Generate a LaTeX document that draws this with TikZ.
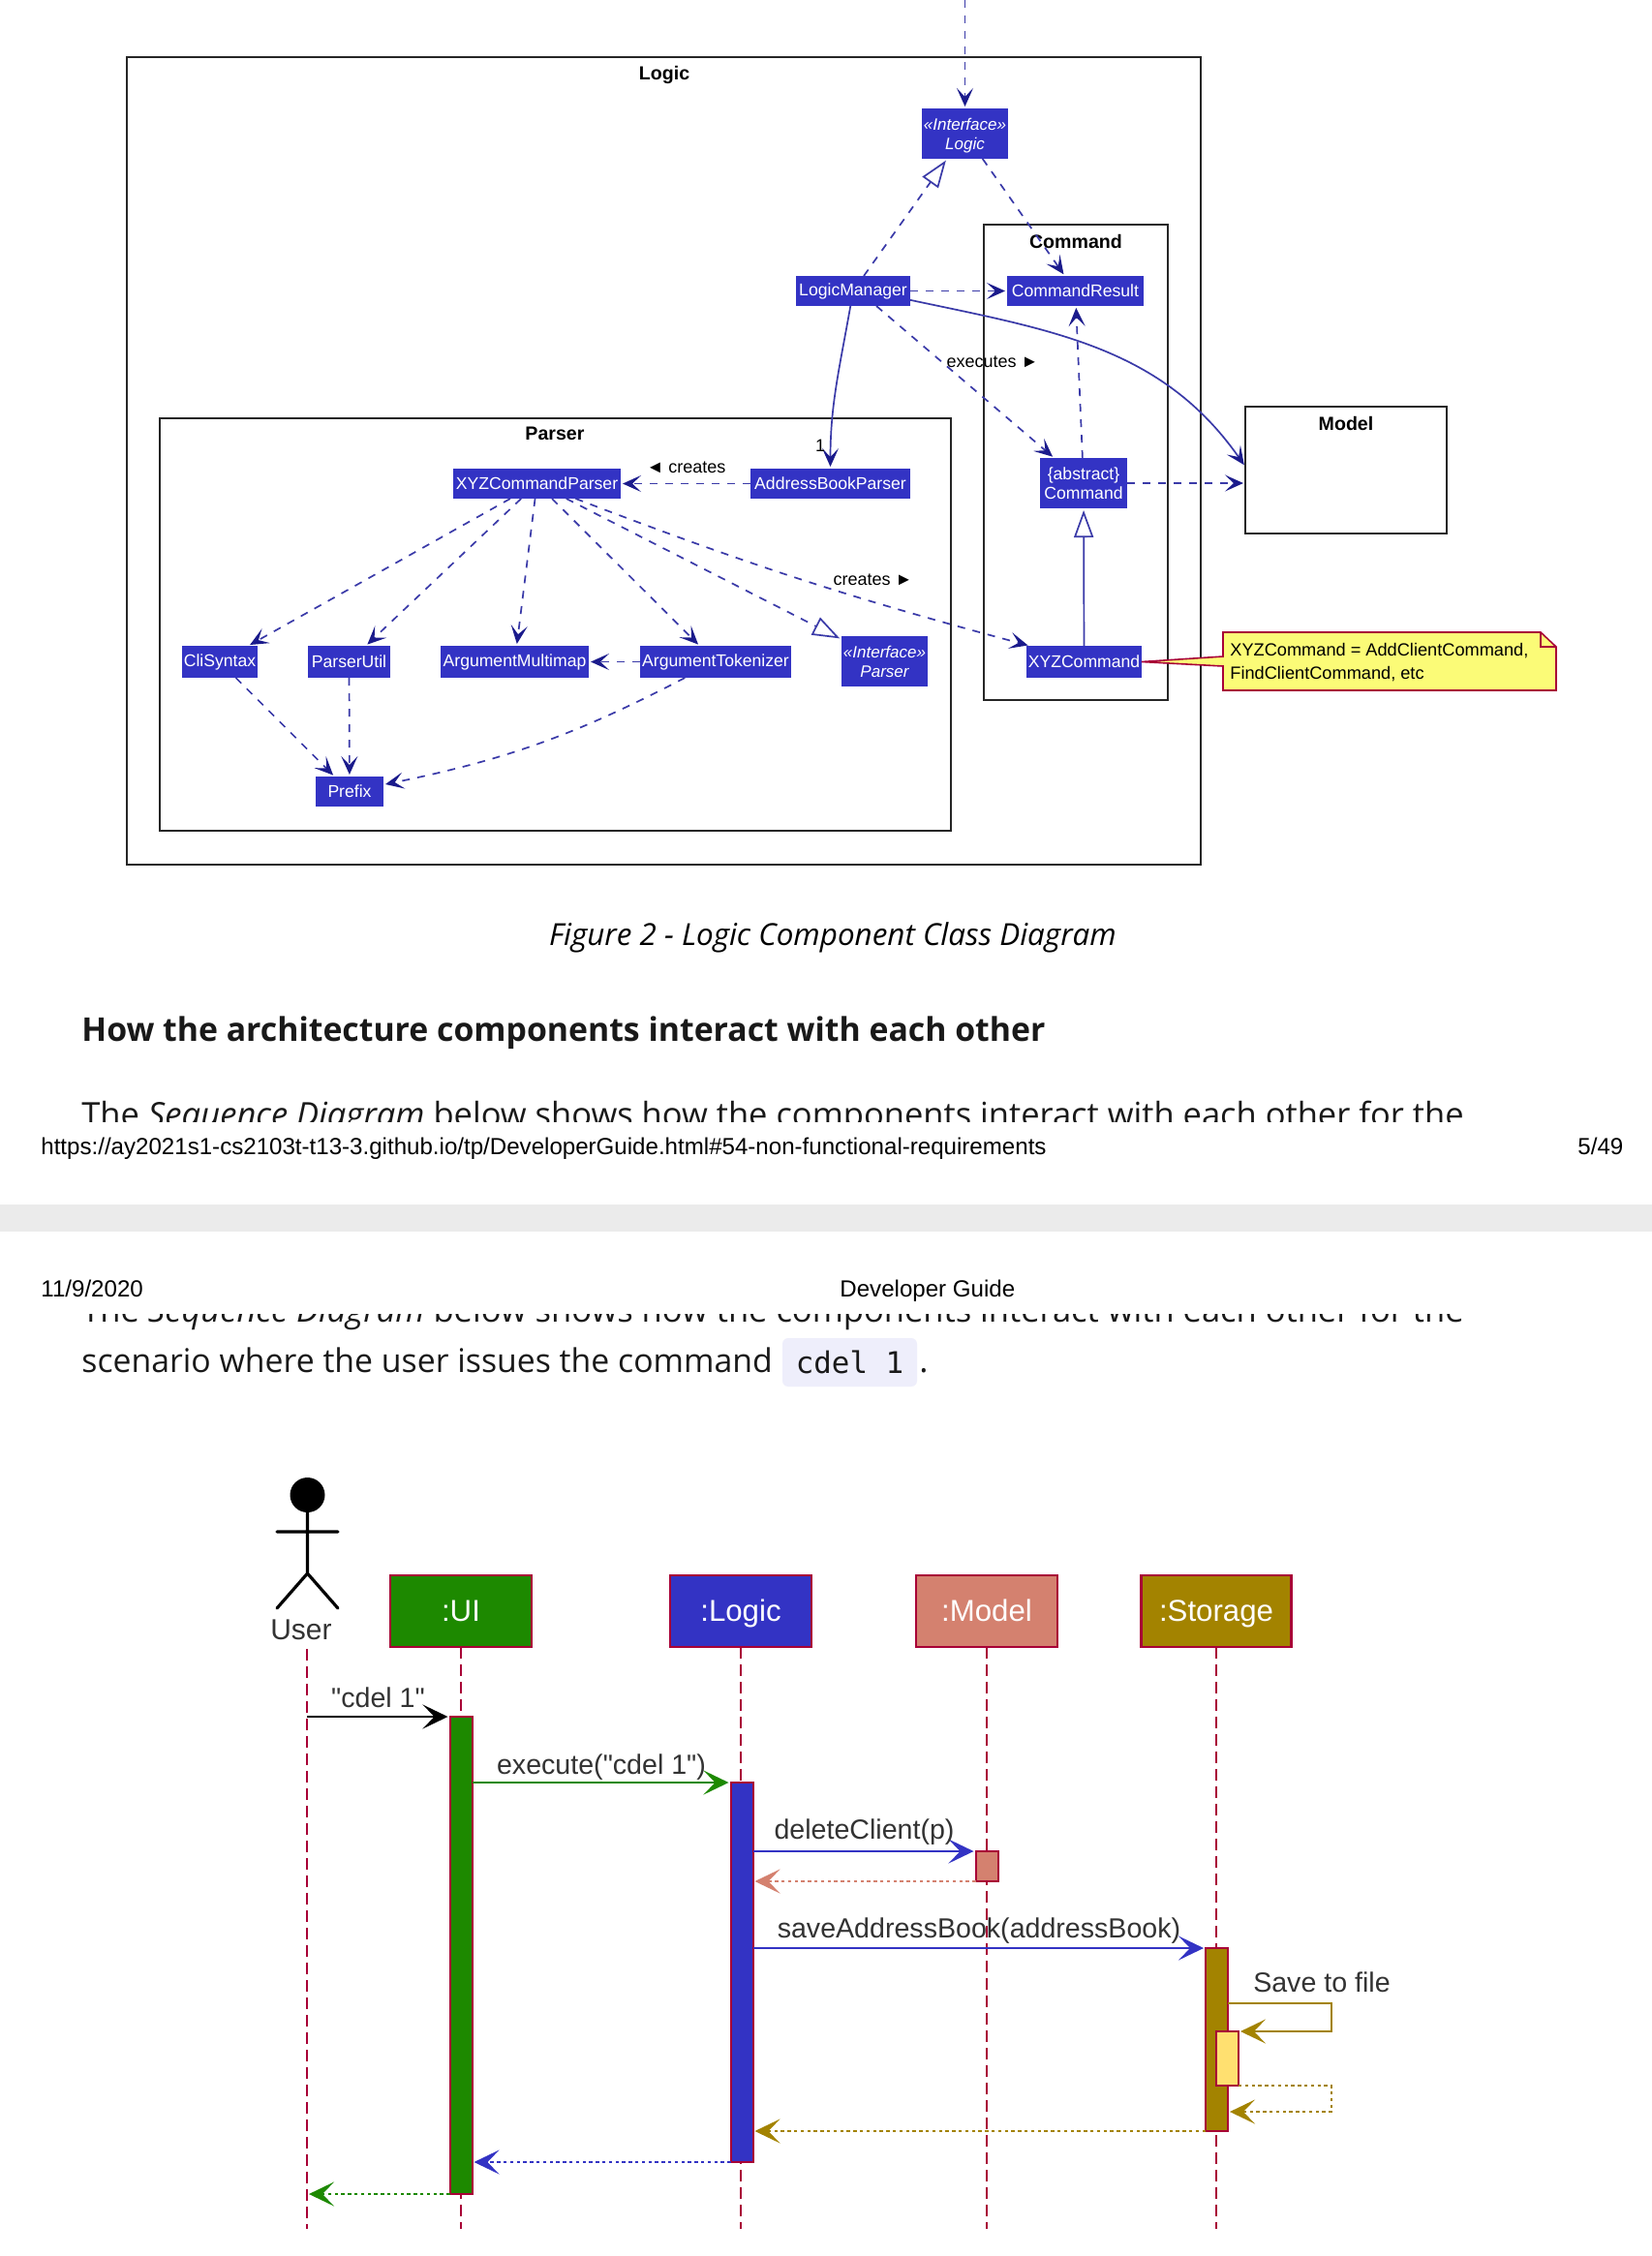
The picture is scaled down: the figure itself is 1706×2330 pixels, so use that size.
\documentclass[tikz,border=0pt]{standalone}
\usepackage{fontspec}
\setmainfont{Liberation Sans}
\newfontfamily\pagefont{Open Sans}
\newfontfamily\codefont{DejaVu Sans Mono}
\usetikzlibrary{arrows.meta}
\definecolor{logicblue}{HTML}{3333C4}
\definecolor{uigreen}{HTML}{1D8900}
\definecolor{modelpink}{HTML}{D4816F}
\definecolor{storagegold}{HTML}{A38300}
\definecolor{filegold}{HTML}{FFE070}
\definecolor{umlred}{HTML}{A80036}
\definecolor{linkblue}{HTML}{3A3AA8}
\definecolor{tipblue}{HTML}{1B1B8C}
\definecolor{noteyellow}{HTML}{FBFB77}
\definecolor{codebg}{HTML}{EEEEFB}
\tikzset{
  frame/.style={draw=black!85,line width=1.1pt,inner sep=0pt,outer sep=0pt},
  frametitle/.style={font=\bfseries\fontsize{9.8}{11}\selectfont},
  cls/.style={fill=logicblue,text=white,inner sep=0pt,outer sep=0pt,align=center,font=\fontsize{8.8}{10}\selectfont},
  iface/.style={cls,text depth=0pt,font=\itshape\fontsize{8.5}{10}\selectfont},
  tag/.style={font=\fontsize{9}{10}\selectfont,inner sep=0pt},
  link/.style={draw=linkblue,line width=.85pt,shorten >=1pt,-{Stealth[length=9.5pt,width=8.5pt,inset=4.5pt,color=tipblue]}},
  uses/.style={link,dash pattern=on 4pt off 4pt},
  hollow/.style={-{Triangle[open,length=14pt,width=10pt,fill=white]}},
  extends/.style={draw=linkblue,line width=.85pt,shorten >=1pt,hollow},
  box/.style={draw=umlred,line width=1.4pt,text=white,inner sep=0pt,outer sep=0pt,minimum width=73pt,minimum height=37pt,text height=12pt,text depth=2pt,font=\fontsize{15.6}{18}\selectfont},
  bar/.style={draw=umlred,line width=1pt,inner sep=0pt,outer sep=0pt,minimum width=11.5pt},
  lifeline/.style={draw=umlred,line width=1pt,dash pattern=on 6pt off 3pt},
  msg/.style={line width=1.1pt,shorten >=1pt,-{Stealth[length=13pt,width=12.5pt,inset=6pt]}},
  ret/.style={msg,line width=1pt,dash pattern=on 1.7pt off 1.7pt},
  seqtext/.style={font=\fontsize{14.3}{16}\selectfont,inner sep=0pt,anchor=base,text=black!80},
  pagetext/.style={font=\pagefont\fontsize{17.25}{20}\selectfont,inner sep=0pt,anchor=base west,text=black!90},
  printtext/.style={font=\fontsize{12.05}{14}\selectfont,inner sep=0pt,anchor=base west}
}
\begin{document}
\begin{tikzpicture}[x=.5pt,y=-.5pt]
  \useasboundingbox (0,0) rectangle (1706,2330);
  \fill[white] (0,0) rectangle (1706,2330);

  \node[frame,minimum width=554.5pt,minimum height=417pt] (logicframe) at (685.5,476) {};
  \node[frame,minimum width=408.5pt,minimum height=213pt] (parserframe) at (573.5,645) {};
  \node[frame,minimum width=95pt,minimum height=245.5pt] (commandframe) at (1111,477.5) {};
  \node[frame,minimum width=104pt,minimum height=65.5pt] (modelframe) at (1390,485.5) {};
  \node[frametitle] (logictitle) at (686,77) {Logic};
  \node[frametitle] (parsertitle) at (573,448) {Parser};
  \node[frametitle] (commandtitle) at (1111,249) {Command};
  \node[frametitle] (modeltitle) at (1390,437) {Model};

  \coordinate (caller) at (996.5,0);
  \node[iface,minimum width=44.5pt,minimum height=26pt] (logic) at (996.5,138) {«Interface»\\Logic};
  \node[cls,minimum width=59pt,minimum height=15.5pt] (logicmanager) at (881,300.5) {LogicManager};
  \node[cls,minimum width=70.5pt,minimum height=15.5pt] (commandresult) at (1110.5,300.5) {CommandResult};
  \node[cls,minimum width=82.5pt,minimum height=15.5pt] (addressbookparser) at (857.5,499.5) {AddressBookParser};
  \node[cls,minimum width=86.5pt,minimum height=15.5pt] (xyzcommandparser) at (554.5,499.5) {XYZCommandParser};
  \node[cls,minimum width=45pt,minimum height=26pt] (command) at (1119,499) {\{abstract\}\\Command};
  \node[cls,minimum width=39pt,minimum height=16.5pt] (clisyntax) at (227,683.5) {CliSyntax};
  \node[cls,minimum width=42.5pt,minimum height=16.5pt] (parserutil) at (360.5,683.5) {ParserUtil};
  \node[cls,minimum width=76.5pt,minimum height=16.5pt] (argumentmultimap) at (531.5,683.5) {ArgumentMultimap};
  \node[cls,minimum width=78pt,minimum height=16.5pt] (argumenttokenizer) at (739,683.5) {ArgumentTokenizer};
  \node[iface,minimum width=44.5pt,minimum height=26pt] (parser) at (913.5,683) {«Interface»\\Parser};
  \node[cls,minimum width=59.5pt,minimum height=16.5pt] (xyzcommand) at (1119.5,683.5) {XYZCommand};
  \node[cls,minimum width=35pt,minimum height=15.5pt] (prefix) at (361,817.5) {Prefix};

  \draw[uses] (caller) -- (logic);
  \draw[uses,hollow] (logicmanager) -- (logic);
  \draw[uses] (logic) -- (commandresult);
  \draw[uses] (logicmanager) -- (commandresult);
  \draw[uses] ([xshift=12pt]logicmanager.south) -- (command);
  \draw[uses] (command) -- (commandresult);
  \draw[uses] (command) -- (command -| modelframe.west);
  \draw[link] (logicmanager) to[out=-100,in=90] (addressbookparser);
  \draw[link] (logicmanager.-9) to[out=-12,in=125] (modelframe.178);
  \draw[extends] (xyzcommand) -- (command);
  \draw[uses] (addressbookparser) -- (xyzcommandparser);
  \draw[uses] (xyzcommandparser) -- (clisyntax);
  \draw[uses] (xyzcommandparser) -- (parserutil);
  \draw[uses] (xyzcommandparser) -- (argumentmultimap);
  \draw[uses] (xyzcommandparser) -- (argumenttokenizer);
  \draw[uses,hollow] (xyzcommandparser) -- (parser);
  \draw[uses] ([xshift=20pt]xyzcommandparser.south) to[bend right=3] ([xshift=-28pt]xyzcommand.north);
  \draw[uses] (argumenttokenizer) -- (argumentmultimap);
  \draw[uses] (clisyntax) -- (prefix);
  \draw[uses] (parserutil) -- (prefix);
  \draw[uses] (argumenttokenizer) to[bend left=8] (prefix);

  \node[tag] (createsleft) at (708.5,483) {◄ creates};
  \node[tag] (executes) at (1025,374) {executes ►};
  \node[tag] (createsright) at (901.5,599) {creates ►};
  \node[tag] (one) at (847,460) {1};

  \node[minimum width=172pt,minimum height=30pt,inner sep=0pt,outer sep=0pt] (note) at (1435,683) {};
  \filldraw[draw=umlred,fill=noteyellow,line width=.8pt] (note.north west) -- ([xshift=-8pt]note.north east) -- ([yshift=-7.5pt]note.north east) -- (note.south east) -- (note.south west) -- ([yshift=-2.5pt]note.west) -- (xyzcommand.east) -- ([yshift=2.5pt]note.west) -- cycle;
  \draw[draw=umlred,line width=.8pt] ([xshift=-8pt]note.north east) |- ([yshift=-7.5pt]note.north east);
  \node[font=\fontsize{9.1}{12}\selectfont,align=left,inner sep=0pt,anchor=west] (notetext) at ([xshift=3.5pt,yshift=-.7pt]note.west) {XYZCommand = AddClientCommand,\\FindClientCommand, etc};

  \node[font=\pagefont\itshape\fontsize{15.7}{18}\selectfont,inner sep=0pt,anchor=base] (caption) at (860,976) {Figure 2 - Logic Component Class Diagram};
  \node[pagetext,font=\pagefont\bfseries\fontsize{16.9}{20}\selectfont] (heading) at (84,1075) {How the architecture components interact with each other};
  \begin{scope}
    \clip (0,1100) rectangle (1706,1158);
    \node[pagetext] (bodytop) at (84,1163) {The \textit{Sequence Diagram} below shows how the components interact with each other for the};
  \end{scope}
  \node[printtext] (url) at (42,1192) {https://ay2021s1-cs2103t-t13-3.github.io/tp/DeveloperGuide.html\#54-non-functional-requirements};
  \node[printtext] (pagenumber) at (1629,1192) {5/49};
  \fill[black!8] (0,1244) rectangle (1706,1272);
  \node[printtext] (printdate) at (42,1339) {11/9/2020};
  \node[printtext] (printtitle) at (867,1339) {Developer Guide};
  \begin{scope}
    \clip (0,1357) rectangle (1706,1390);
    \node[pagetext] (bodyrest) at (84,1365) {The \textit{Sequence Diagram} below shows how the components interact with each other for the};
  \end{scope}
  \node[pagetext,font=\pagefont\fontsize{16.9}{20}\selectfont] (scenario) at (84,1417) {scenario where the user issues the command};
  \node[fill=codebg,rounded corners=3pt,minimum width=69.5pt,minimum height=25pt,inner sep=0pt,text=black!90,font=\codefont\fontsize{15.4}{18}\selectfont] (code) at (877.5,1407) {cdel 1};
  \node[pagetext] (stop) at (949,1417) {.};

  \coordinate (seqend) at (0,2302);
  \coordinate (userline) at (317,1703);
  \fill[black] (317.5,1544) circle[x radius=9pt,y radius=9pt];
  \draw[black,line width=1.6pt,line cap=round] (317.5,1562) -- (317.5,1625) (286,1582) -- (349,1582) (286,1661) -- (317.5,1625) -- (349,1661);
  \node[font=\fontsize{15}{18}\selectfont,inner sep=0pt,text=black!80] (user) at (311,1683) {User};
  \node[box,fill=uigreen] (ui) at (476,1664) {:UI};
  \node[box,fill=logicblue] (seqlogic) at (765,1664) {:Logic};
  \node[box,fill=modelpink] (model) at (1019,1664) {:Model};
  \node[box,fill=storagegold,minimum width=77.5pt] (storage) at (1256,1664) {:Storage};

  \draw[lifeline] (userline) -- (userline |- seqend);
  \foreach \n in {ui,seqlogic,model,storage}{\draw[lifeline] (\n.south) -- (\n.south |- seqend);}

  \node[bar,fill=uigreen,minimum height=246.5pt] (uibar) at (476,2019.5) {};
  \node[bar,fill=logicblue,minimum height=196pt] (logicbar) at (766,2037) {};
  \node[bar,fill=modelpink,minimum height=15.5pt] (modelbar) at (1019,1927.5) {};
  \node[bar,fill=storagegold,minimum height=94.5pt] (storagebar) at (1256.5,2106.5) {};
  \node[bar,fill=filegold,minimum height=28pt] (filebar) at (1267.5,2126) {};

  \coordinate (loopa) at (1375,2069);
  \coordinate (loopb) at (1375,2098);
  \coordinate (loopc) at (1375,2154);
  \coordinate (loopd) at (1375,2181);
  \draw[msg,black] (uibar.north west -| userline) -- (uibar.north west);
  \draw[msg,color=uigreen] (uibar.east |- logicbar.north) -- (logicbar.north west);
  \draw[msg,color=logicblue] (logicbar.east |- modelbar.north) -- (modelbar.north west);
  \draw[ret,color=modelpink] (modelbar.south west) -- (modelbar.south west -| logicbar.east);
  \draw[msg,color=logicblue] (logicbar.east |- storagebar.north) -- (storagebar.north west);
  \draw[msg,color=storagegold] (storagebar.east |- loopa) -- (loopa) -- (loopb) -- (filebar.north east);
  \draw[ret,color=storagegold] (filebar.south east) -- (loopc) -- (loopd) -- (storagebar.east |- loopd);
  \draw[ret,color=storagegold] (storagebar.south west) -- (storagebar.south west -| logicbar.east);
  \draw[ret,color=logicblue] (logicbar.south west) -- (logicbar.south west -| uibar.east);
  \draw[ret,color=uigreen] (uibar.south west) -- (uibar.south west -| userline);

  \node[seqtext] (cdelmsg) at (390.5,1763) {\textquotedbl cdel 1\textquotedbl};
  \node[seqtext] (executemsg) at (621,1832) {execute(\textquotedbl cdel 1\textquotedbl)};
  \node[seqtext] (deletemsg) at (892.5,1899) {deleteClient(p)};
  \node[seqtext] (savemsg) at (1011,2001) {saveAddressBook(addressBook)};
  \node[seqtext] (filemsg) at (1365,2057) {Save to file};
\end{tikzpicture}
\end{document}
